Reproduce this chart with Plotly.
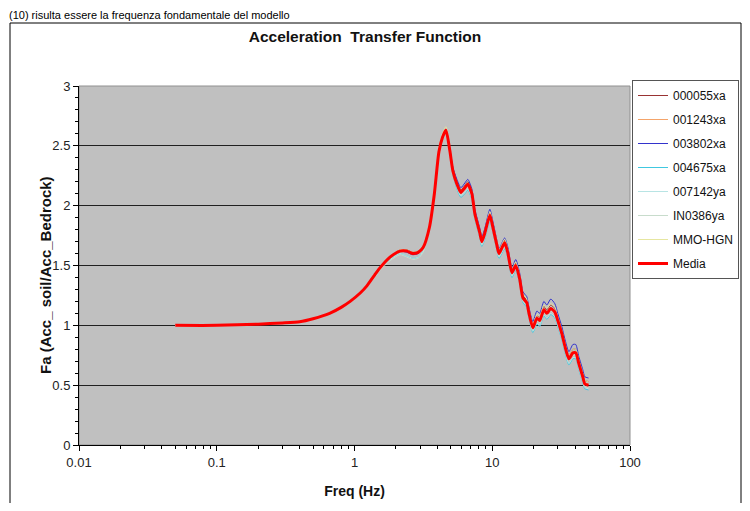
import plotly.graph_objects as go

# ---- data -------------------------------------------------------------
freq = [0.05, 0.1, 0.2, 0.3, 0.4, 0.5, 0.66, 0.8, 0.93, 1.1,
        1.23, 1.4, 1.53, 1.81, 2.14, 2.4, 2.65, 2.9, 3.15, 3.5,
        3.8, 4.1, 4.35, 4.61, 4.92, 5.18, 5.54, 5.92, 6.33, 6.65,
        7.11, 7.48, 8.13, 8.4, 8.83, 9.61, 10.1, 10.8, 11.2, 12.3,
        13.0, 13.9, 14.8, 15.8, 16.7, 17.8, 18.4, 19.7, 21.1, 22.1,
        23.7, 24.9, 26.6, 28.5, 29.9, 32.0, 33.6, 36.0, 38.5, 40.4,
        42.5, 45.4, 47.0, 50.0]

s_000055xa = [1.00, 1.00, 1.01, 1.02, 1.03, 1.055, 1.10, 1.15, 1.20, 1.27,
              1.33, 1.42, 1.48, 1.57, 1.63, 1.63, 1.61, 1.62, 1.66, 1.83,
              2.11, 2.46, 2.58, 2.64, 2.47, 2.31, 2.20, 2.13, 2.17, 2.20,
              2.12, 1.95, 1.79, 1.72, 1.79, 1.94, 1.84, 1.69, 1.62, 1.71,
              1.62, 1.46, 1.52, 1.41, 1.25, 1.21, 1.13, 1.00, 1.08, 1.07,
              1.16, 1.13, 1.17, 1.14, 1.07, 0.96, 0.86, 0.75, 0.80, 0.80,
              0.71, 0.60, 0.54, 0.53]

s_001243xa = [1.00, 1.00, 1.01, 1.02, 1.03, 1.055, 1.10, 1.15, 1.20, 1.27,
              1.33, 1.42, 1.48, 1.57, 1.63, 1.63, 1.61, 1.61, 1.65, 1.82,
              2.10, 2.45, 2.58, 2.64, 2.47, 2.30, 2.19, 2.12, 2.16, 2.19,
              2.11, 1.94, 1.78, 1.71, 1.78, 1.93, 1.83, 1.68, 1.61, 1.70,
              1.61, 1.45, 1.51, 1.40, 1.24, 1.20, 1.12, 0.99, 1.07, 1.05,
              1.14, 1.11, 1.15, 1.12, 1.05, 0.94, 0.84, 0.73, 0.78, 0.78,
              0.69, 0.58, 0.52, 0.51]

s_003802xa = [1.00, 1.00, 1.01, 1.02, 1.03, 1.055, 1.10, 1.15, 1.20, 1.27,
              1.33, 1.42, 1.48, 1.57, 1.62, 1.61, 1.59, 1.60, 1.65, 1.82,
              2.10, 2.45, 2.58, 2.64, 2.48, 2.32, 2.22, 2.15, 2.19, 2.22,
              2.14, 1.97, 1.81, 1.74, 1.81, 1.97, 1.87, 1.71, 1.64, 1.73,
              1.65, 1.48, 1.55, 1.44, 1.28, 1.24, 1.16, 1.03, 1.12, 1.10,
              1.20, 1.17, 1.22, 1.18, 1.10, 0.99, 0.89, 0.78, 0.84, 0.84,
              0.74, 0.63, 0.57, 0.56]

s_004675xa = [1.00, 1.00, 1.01, 1.02, 1.03, 1.055, 1.10, 1.15, 1.20, 1.27,
              1.33, 1.41, 1.47, 1.55, 1.60, 1.58, 1.56, 1.57, 1.62, 1.80,
              2.08, 2.43, 2.56, 2.62, 2.44, 2.26, 2.14, 2.07, 2.10, 2.13,
              2.05, 1.89, 1.73, 1.66, 1.72, 1.87, 1.78, 1.63, 1.56, 1.64,
              1.56, 1.40, 1.46, 1.35, 1.19, 1.15, 1.07, 0.94, 1.01, 0.99,
              1.08, 1.05, 1.09, 1.06, 0.99, 0.88, 0.78, 0.67, 0.72, 0.72,
              0.63, 0.52, 0.47, 0.46]

s_007142ya = [1.00, 1.00, 1.01, 1.02, 1.03, 1.055, 1.10, 1.15, 1.20, 1.27,
              1.32, 1.41, 1.47, 1.55, 1.60, 1.58, 1.56, 1.57, 1.62, 1.81,
              2.09, 2.44, 2.56, 2.62, 2.44, 2.27, 2.15, 2.08, 2.11, 2.14,
              2.06, 1.90, 1.74, 1.67, 1.73, 1.88, 1.79, 1.64, 1.57, 1.65,
              1.57, 1.41, 1.47, 1.36, 1.20, 1.16, 1.08, 0.95, 1.02, 1.00,
              1.09, 1.06, 1.10, 1.07, 1.00, 0.89, 0.79, 0.68, 0.73, 0.73,
              0.64, 0.53, 0.48, 0.47]

s_IN0386ya = [1.00, 1.00, 1.01, 1.02, 1.03, 1.055, 1.10, 1.15, 1.20, 1.27,
              1.32, 1.40, 1.46, 1.54, 1.59, 1.57, 1.55, 1.56, 1.61, 1.80,
              2.09, 2.45, 2.57, 2.63, 2.45, 2.28, 2.16, 2.09, 2.13, 2.16,
              2.08, 1.91, 1.75, 1.68, 1.75, 1.90, 1.80, 1.65, 1.58, 1.67,
              1.58, 1.42, 1.48, 1.37, 1.21, 1.17, 1.09, 0.96, 1.04, 1.02,
              1.11, 1.08, 1.12, 1.09, 1.02, 0.91, 0.81, 0.70, 0.75, 0.75,
              0.66, 0.55, 0.49, 0.48]

s_MMO_HGN = [1.00, 1.00, 1.01, 1.02, 1.03, 1.055, 1.10, 1.15, 1.20, 1.27,
             1.33, 1.42, 1.48, 1.57, 1.63, 1.62, 1.61, 1.62, 1.66, 1.84,
             2.12, 2.48, 2.60, 2.66, 2.48, 2.31, 2.19, 2.12, 2.16, 2.19,
             2.12, 1.95, 1.79, 1.72, 1.79, 1.95, 1.85, 1.70, 1.63, 1.72,
             1.63, 1.47, 1.53, 1.42, 1.26, 1.22, 1.14, 1.01, 1.09, 1.07,
             1.17, 1.14, 1.18, 1.15, 1.07, 0.96, 0.86, 0.75, 0.80, 0.80,
             0.71, 0.60, 0.54, 0.53]

media = [1.00, 1.00, 1.01, 1.02, 1.03, 1.055, 1.10, 1.15, 1.20, 1.27,
         1.33, 1.42, 1.48, 1.57, 1.62, 1.62, 1.60, 1.61, 1.65, 1.82,
         2.10, 2.45, 2.57, 2.63, 2.46, 2.29, 2.18, 2.11, 2.15, 2.18,
         2.10, 1.93, 1.77, 1.70, 1.77, 1.92, 1.82, 1.67, 1.60, 1.69,
         1.60, 1.44, 1.50, 1.39, 1.23, 1.19, 1.11, 0.98, 1.06, 1.04,
         1.13, 1.10, 1.14, 1.11, 1.04, 0.93, 0.83, 0.72, 0.77, 0.77,
         0.68, 0.57, 0.51, 0.50]

series_names = ["000055xa", "001243xa", "003802xa", "004675xa",
                "007142ya", "IN0386ya", "MMO-HGN", "Media"]
series_values = [s_000055xa, s_001243xa, s_003802xa, s_004675xa,
                 s_007142ya, s_IN0386ya, s_MMO_HGN, media]
series_colors = ["#993333", "#F4A46A", "#3333CC", "#40C8E0",
                 "#B8E4E4", "#C8DCCC", "#E6E6A0", "#FF0000"]
series_widths = [1, 1, 1, 1, 1, 1, 1, 3]

x_tick_vals = [0.01, 0.1, 1, 10, 100]
x_tick_text = ["0.01", "0.1", "1", "10", "100"]

FONT = "Liberation Sans, Arial, sans-serif"

# ---- geometry (figure pixels) ------------------------------------------
W, H = 734, 495
L, R, T, B = 71, 622, 78, 437
PW, PH = R - L, B - T


def px(x):
    return (x - L) / PW


def py(y):
    return (B - y) / PH


# ---- figure -------------------------------------------------------------
fig = go.Figure()
for name, vals, col, w in zip(series_names, series_values, series_colors, series_widths):
    fig.add_trace(go.Scatter(
        x=freq, y=vals, name=name, mode="lines",
        line=dict(color=col, width=w, shape="spline", smoothing=0.6),
        legendgroup=name,
    ))

minor_x = [m * 10.0 ** e for e in range(-2, 2) for m in range(2, 10)]

fig.update_layout(
    width=W, height=H,
    margin=dict(l=L, r=W - R, t=T, b=H - B, autoexpand=False),
    paper_bgcolor="white",
    plot_bgcolor="#C0C0C0",
    font=dict(family=FONT, size=13, color="#222222"),
    title=dict(text="Acceleration\u00a0 Transfer Function",
               font=dict(family=FONT, size=15.5, color="#111111", weight="bold"),
               x=357 / W, xanchor="center", y=1 - 29 / H, yanchor="middle"),
    showlegend=True,
    legend=dict(x=px(624), xanchor="left", y=py(72), yanchor="top",
                bgcolor="white", bordercolor="#555555", borderwidth=1,
                font=dict(family=FONT, size=12, color="#111111"),
                tracegroupgap=5, itemwidth=30),
    xaxis=dict(type="log", range=[-2, 2],
               tickmode="array", tickvals=x_tick_vals, ticktext=x_tick_text,
               ticks="outside", ticklen=5, tickcolor="black",
               showline=True, linecolor="black", linewidth=1,
               showgrid=False, zeroline=False,
               minor=dict(tickvals=minor_x, ticks="outside", ticklen=3,
                          tickcolor="black", showgrid=False),
               title=dict(text="Freq (Hz)",
                          font=dict(family=FONT, size=14, color="#111111", weight="bold"),
                          standoff=17)),
    yaxis=dict(range=[0, 3], dtick=0.5, tick0=0,
               ticks="outside", ticklen=5, tickcolor="black",
               showline=True, linecolor="black", linewidth=1,
               showgrid=True, gridcolor="#202020", gridwidth=1, zeroline=False,
               minor=dict(dtick=0.1, ticks="outside", ticklen=3,
                          tickcolor="black", showgrid=False)),
)

# y-axis title placed explicitly
fig.add_annotation(text="<b>Fa (Acc_ soil/Acc_Bedrock)</b>", textangle=-90,
                   xref="paper", yref="paper", x=px(37), xanchor="center",
                   y=py(267), yanchor="middle", showarrow=False,
                   font=dict(family=FONT, size=15, color="#111111"))

# plot-area border on top/right
fig.add_shape(type="rect", xref="paper", yref="paper", x0=0, x1=1, y0=0, y1=1,
              line=dict(color="#909090", width=1), layer="below")
# outer chart frame
fig.add_shape(type="rect", xref="paper", yref="paper",
              x0=px(2), x1=px(733), y0=py(530), y1=py(15),
              line=dict(color="black", width=1))

# document text line above the chart
fig.add_annotation(text="(10) risulta essere la frequenza fondamentale del modello",
                   xref="paper", yref="paper", x=px(0), xanchor="left",
                   y=py(0), yanchor="top", showarrow=False, borderpad=0,
                   font=dict(family=FONT, size=11, color="black"))

fig.write_html("out.html")
